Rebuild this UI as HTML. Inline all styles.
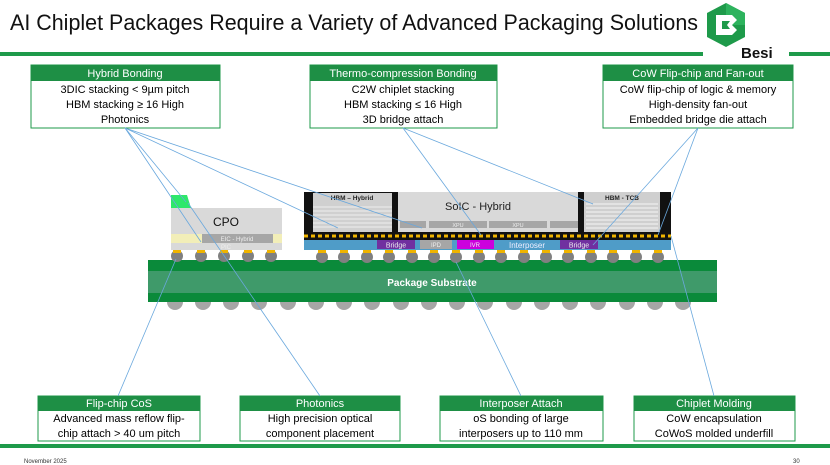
<!DOCTYPE html>
<html><head><meta charset="utf-8"><style>
body{margin:0;width:830px;height:465px;overflow:hidden;background:#fff;font-family:"Liberation Sans",sans-serif}
svg{display:block}
</style></head><body>
<svg width="830" height="465" viewBox="0 0 830 465" xmlns="http://www.w3.org/2000/svg" font-family="Liberation Sans, sans-serif">
<text x="10" y="30" font-size="22" fill="#111" textLength="688" lengthAdjust="spacingAndGlyphs">AI Chiplet Packages Require a Variety of Advanced Packaging Solutions</text>
<!-- logo -->
<polygon points="726,3 745,13 745,37 726,47 707,37 707,13" fill="#1e9a4a"/>
<polygon points="726,3 745,13 745,25 726,25" fill="#2db35d"/>
<path d="M716,15 h16 l5,5 l-5,5 l5,5 l-5,5 h-16 z" fill="#fff"/>
<path d="M722,21 h8 l-3,4 l3,4 h-8 z" fill="#1e9a4a"/>
<text x="741" y="58" font-size="15" font-weight="bold" fill="#111">Besi</text>
<rect x="0" y="52" width="703" height="4" fill="#1e9a4a"/>
<rect x="789" y="52" width="41" height="4" fill="#1e9a4a"/>
<rect x="0" y="444" width="830" height="4" fill="#1e9a4a"/>
<text x="24" y="463" font-size="6" fill="#333">November 2025</text>
<text x="793" y="463" font-size="6" fill="#333">30</text>

<!-- top boxes -->
<g font-size="11" text-anchor="middle">
<rect x="31" y="65" width="189" height="63" fill="#fff" stroke="#1e9a4a"/>
<rect x="31" y="65" width="189" height="16" fill="#1e8f45"/>
<text x="125" y="77" fill="#fff">Hybrid Bonding</text>
<text x="125" y="93">3DIC stacking &lt; 9µm pitch</text>
<text x="125" y="108">HBM stacking ≥ 16 High</text>
<text x="125" y="123">Photonics</text>

<rect x="310" y="65" width="187" height="63" fill="#fff" stroke="#1e9a4a"/>
<rect x="310" y="65" width="187" height="16" fill="#1e8f45"/>
<text x="403" y="77" fill="#fff">Thermo-compression Bonding</text>
<text x="403" y="93">C2W chiplet stacking</text>
<text x="403" y="108">HBM stacking ≤ 16 High</text>
<text x="403" y="123">3D bridge attach</text>

<rect x="603" y="65" width="190" height="63" fill="#fff" stroke="#1e9a4a"/>
<rect x="603" y="65" width="190" height="16" fill="#1e8f45"/>
<text x="698" y="77" fill="#fff">CoW Flip-chip and Fan-out</text>
<text x="698" y="93">CoW flip-chip of logic &amp; memory</text>
<text x="698" y="108">High-density fan-out</text>
<text x="698" y="123">Embedded bridge die attach</text>

<!-- bottom boxes -->
<rect x="38" y="396" width="162" height="45" fill="#fff" stroke="#1e9a4a"/>
<rect x="38" y="396" width="162" height="15" fill="#1e8f45"/>
<text x="119" y="407" fill="#fff">Flip-chip CoS</text>
<text x="119" y="422">Advanced mass reflow flip-</text>
<text x="119" y="437">chip attach &gt; 40 um pitch</text>

<rect x="240" y="396" width="160" height="45" fill="#fff" stroke="#1e9a4a"/>
<rect x="240" y="396" width="160" height="15" fill="#1e8f45"/>
<text x="320" y="407" fill="#fff">Photonics</text>
<text x="320" y="422">High precision optical</text>
<text x="320" y="437">component placement</text>

<rect x="440" y="396" width="163" height="45" fill="#fff" stroke="#1e9a4a"/>
<rect x="440" y="396" width="163" height="15" fill="#1e8f45"/>
<text x="521" y="407" fill="#fff">Interposer Attach</text>
<text x="521" y="422">oS bonding of large</text>
<text x="521" y="437">interposers up to 110 mm</text>

<rect x="634" y="396" width="161" height="45" fill="#fff" stroke="#1e9a4a"/>
<rect x="634" y="396" width="161" height="15" fill="#1e8f45"/>
<text x="714" y="407" fill="#fff">Chiplet Molding</text>
<text x="714" y="422">CoW encapsulation</text>
<text x="714" y="437">CoWoS molded underfill</text>
</g>

<!-- lower balls -->
<g fill="#a6a6a6">
<circle cx="175" cy="302" r="8"/><circle cx="203" cy="302" r="8"/><circle cx="231" cy="302" r="8"/><circle cx="259" cy="302" r="8"/><circle cx="288" cy="302" r="8"/><circle cx="316" cy="302" r="8"/><circle cx="344" cy="302" r="8"/><circle cx="372" cy="302" r="8"/><circle cx="401" cy="302" r="8"/><circle cx="429" cy="302" r="8"/><circle cx="457" cy="302" r="8"/><circle cx="485" cy="302" r="8"/><circle cx="514" cy="302" r="8"/><circle cx="542" cy="302" r="8"/><circle cx="570" cy="302" r="8"/><circle cx="598" cy="302" r="8"/><circle cx="627" cy="302" r="8"/><circle cx="655" cy="302" r="8"/><circle cx="683" cy="302" r="8"/>
</g>
<!-- substrate -->
<rect x="148" y="260" width="569" height="42" fill="#0a8a3a"/>
<rect x="148" y="271" width="569" height="22" fill="#3f9a6a"/>
<text x="432" y="286" font-size="10" font-weight="bold" fill="#fff" text-anchor="middle">Package Substrate</text>

<!-- upper bumps -->
<g fill="#808080">
<circle cx="177" cy="256" r="6"/><circle cx="201" cy="256" r="6"/><circle cx="224" cy="256" r="6"/><circle cx="248" cy="256" r="6"/><circle cx="271" cy="256" r="6"/>
<circle cx="322" cy="257" r="6"/><circle cx="344" cy="257" r="6"/><circle cx="367" cy="257" r="6"/><circle cx="389" cy="257" r="6"/><circle cx="412" cy="257" r="6"/><circle cx="434" cy="257" r="6"/><circle cx="456" cy="257" r="6"/><circle cx="479" cy="257" r="6"/><circle cx="501" cy="257" r="6"/><circle cx="524" cy="257" r="6"/><circle cx="546" cy="257" r="6"/><circle cx="568" cy="257" r="6"/><circle cx="591" cy="257" r="6"/><circle cx="613" cy="257" r="6"/><circle cx="636" cy="257" r="6"/><circle cx="658" cy="257" r="6"/>
</g>
<g fill="#f0b400">
<rect x="173" y="250" width="8" height="3"/><rect x="197" y="250" width="8" height="3"/><rect x="220" y="250" width="8" height="3"/><rect x="244" y="250" width="8" height="3"/><rect x="267" y="250" width="8" height="3"/>
<rect x="318" y="250" width="8" height="3"/><rect x="340" y="250" width="8" height="3"/><rect x="363" y="250" width="8" height="3"/><rect x="385" y="250" width="8" height="3"/><rect x="408" y="250" width="8" height="3"/><rect x="430" y="250" width="8" height="3"/><rect x="452" y="250" width="8" height="3"/><rect x="475" y="250" width="8" height="3"/><rect x="497" y="250" width="8" height="3"/><rect x="520" y="250" width="8" height="3"/><rect x="542" y="250" width="8" height="3"/><rect x="564" y="250" width="8" height="3"/><rect x="587" y="250" width="8" height="3"/><rect x="609" y="250" width="8" height="3"/><rect x="632" y="250" width="8" height="3"/><rect x="654" y="250" width="8" height="3"/>
</g>

<!-- CPO -->
<polygon points="171,195 187,195 191,208 171,208" fill="#2ee86a"/>
<rect x="171" y="208" width="111" height="42" fill="#d9d9d9"/>
<rect x="171" y="234" width="111" height="9" fill="#f2eeb8"/>
<rect x="202" y="234" width="71" height="9" fill="#a6a6a6"/>
<text x="237" y="241" font-size="6" fill="#eee" text-anchor="middle">EIC - Hybrid</text>
<text x="226" y="249" font-size="6" fill="#eee" text-anchor="middle">PIC</text>
<text x="226" y="226" font-size="12" fill="#111" text-anchor="middle">CPO</text>

<!-- main package -->
<rect x="304" y="192" width="367" height="48" fill="#111"/>
<rect x="313" y="193" width="79" height="39" fill="#d0d0d0"/>
<g stroke="#eee" stroke-width="1"><line x1="313" y1="207" x2="392" y2="207"/><line x1="313" y1="211" x2="392" y2="211"/><line x1="313" y1="215" x2="392" y2="215"/><line x1="313" y1="219" x2="392" y2="219"/><line x1="313" y1="223" x2="392" y2="223"/><line x1="313" y1="227" x2="392" y2="227"/></g>
<text x="352" y="200" font-size="6.5" font-weight="bold" fill="#222" text-anchor="middle">HBM – Hybrid</text>
<rect x="398" y="192" width="180" height="40" fill="#d9d9d9"/>
<text x="478" y="210" font-size="11" fill="#222" text-anchor="middle">SoIC - Hybrid</text>
<rect x="400" y="221" width="26" height="7" fill="#a6a6a6"/>
<rect x="429" y="221" width="58" height="7" fill="#a6a6a6"/>
<rect x="489" y="221" width="58" height="7" fill="#a6a6a6"/>
<rect x="550" y="221" width="28" height="7" fill="#a6a6a6"/>
<text x="458" y="227" font-size="5.5" fill="#eee" text-anchor="middle">XPU</text>
<text x="518" y="227" font-size="5.5" fill="#eee" text-anchor="middle">XPU</text>
<rect x="584" y="192" width="76" height="40" fill="#cfcfcf"/>
<g stroke="#f5f5f5" stroke-width="1"><line x1="586" y1="204" x2="658" y2="204"/><line x1="586" y1="208" x2="658" y2="208"/><line x1="586" y1="212" x2="658" y2="212"/><line x1="586" y1="216" x2="658" y2="216"/><line x1="586" y1="220" x2="658" y2="220"/><line x1="586" y1="224" x2="658" y2="224"/><line x1="586" y1="228" x2="658" y2="228"/></g>
<text x="622" y="200" font-size="6.5" font-weight="bold" fill="#222" text-anchor="middle">HBM - TCB</text>
<line x1="304" y1="236" x2="671" y2="236" stroke="#f0b400" stroke-width="3" stroke-dasharray="4,3"/>
<rect x="304" y="240" width="367" height="10" fill="#4f9cc8"/>
<rect x="377" y="240" width="38" height="9" fill="#7030a0"/>
<text x="396" y="247.5" font-size="7" fill="#eee" text-anchor="middle">Bridge</text>
<rect x="420" y="240" width="32" height="9" fill="#a6a6a6"/>
<text x="436" y="247" font-size="6" fill="#eee" text-anchor="middle">IPD</text>
<rect x="457" y="240" width="37" height="9" fill="#cc00dd"/>
<text x="475" y="247" font-size="6" fill="#eee" text-anchor="middle">IVR</text>
<text x="527" y="248" font-size="8" fill="#eef" text-anchor="middle">Interposer</text>
<rect x="560" y="240" width="38" height="9" fill="#7030a0"/>
<text x="579" y="247.5" font-size="7" fill="#eee" text-anchor="middle">Bridge</text>

<!-- connectors -->
<g stroke="#6aa8dd" stroke-width="0.8" fill="none">
<line x1="125" y1="128" x2="186" y2="202"/>
<line x1="125" y1="128" x2="201" y2="242"/>
<line x1="125" y1="128" x2="338" y2="228"/>
<line x1="125" y1="128" x2="422" y2="228"/>
<line x1="403" y1="128" x2="481" y2="235"/>
<line x1="403" y1="128" x2="593" y2="204"/>
<line x1="698" y1="128" x2="658" y2="235"/>
<line x1="698" y1="128" x2="593" y2="245"/>
<line x1="118" y1="396" x2="176" y2="259"/>
<line x1="320" y1="396" x2="188" y2="203"/>
<line x1="521" y1="396" x2="456" y2="262"/>
<line x1="714" y1="396" x2="671" y2="236"/>
</g>
</svg>
</body></html>
